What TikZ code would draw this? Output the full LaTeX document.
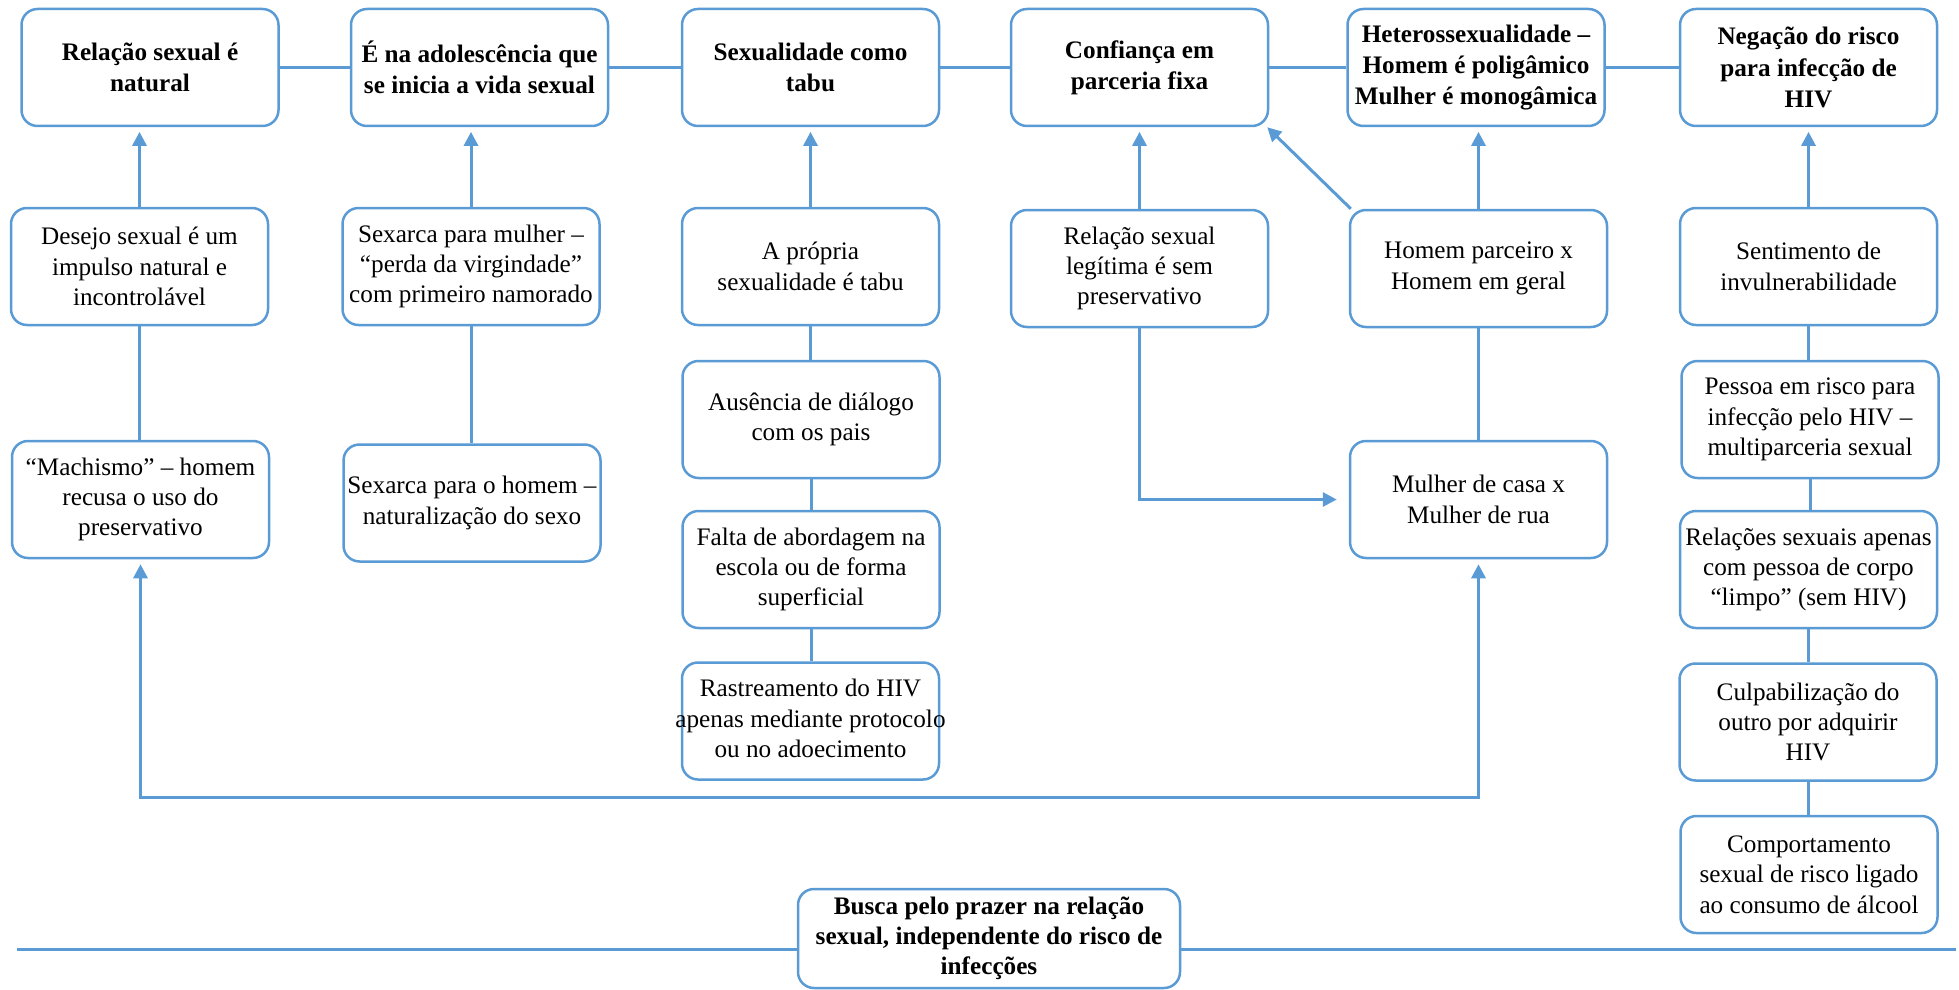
\documentclass[tikz,border=0pt]{standalone}
\usepackage{fontspec}
\setmainfont{Liberation Serif}
\usetikzlibrary{arrows.meta}
\definecolor{lineblue}{RGB}{91,155,213}
\begin{document}
\begin{tikzpicture}[x=0.5pt,y=-0.5pt,
  box/.style={draw=lineblue, line width=1.25pt, rounded corners=8pt, fill=white,
    align=center, inner sep=0pt, minimum width=128.5pt, minimum height=58.5pt,
    font=\fontsize{12.6}{15.2}\selectfont},
  head/.style={box, font=\fontsize{12.6}{15.6}\selectfont\bfseries},
  conn/.style={draw=lineblue, line width=1.5pt},
  arr/.style={conn, -{Triangle[length=7pt,width=7pt]}, shorten >=2.3pt},
  dblarr/.style={conn, {Triangle[length=7pt,width=7pt]}-{Triangle[length=7pt,width=7pt]},
    shorten >=2.5pt, shorten <=2.5pt},
]
\useasboundingbox (0,0) rectangle (1959,990);

% bottom base line behind the central box
\coordinate (baseL) at (17,949);
\coordinate (baseR) at (1956,949);
\coordinate (loopy) at (0,797);

% top row: main themes
\node[head] (b1) at (150,67.5)    {Relação sexual é\\natural};
\node[head] (b2) at (479.5,67.5)  {É na adolescência que\\se inicia a vida sexual};
\node[head] (b3) at (810.5,67.5)  {Sexualidade como\\tabu};
\node[head] (b4) at (1139.5,67.5) {Confiança em\\parceria fixa};
\node[head] (b5) at (1476,67.5)   {Heterossexualidade –\\Homem é poligâmico\\Mulher é monogâmica};
\node[head] (b6) at (1808.5,67.5) {Negação do risco\\para infecção de\\HIV};

% second row
\node[box] (desejo)  at (139.5,266.5)  {Desejo sexual é um\\impulso natural e\\incontrolável};
\node[box] (sexm)    at (471,266.5)    {Sexarca para mulher –\\“perda da virgindade”\\com primeiro namorado};
\node[box] (propria) at (810.5,266.5)  {A própria\\sexualidade é tabu};
\node[box] (legit)   at (1139.5,268.5) {Relação sexual\\legítima é sem\\preservativo};
\node[box] (homemp)  at (1478.5,268.5) {Homem parceiro x\\Homem em geral};
\node[box] (sentim)  at (1808.5,266.5) {Sentimento de\\invulnerabilidade};

% third row
\node[box] (machismo) at (140.5,499.5) {“Machismo” – homem\\recusa o uso do\\preservativo};
\node[box] (sexh)     at (472,503)     {Sexarca para o homem –\\naturalização do sexo};
\node[box] (ausencia) at (811,419.5)   {Ausência de diálogo\\com os pais};
\node[box] (mulher)   at (1478.5,499.5){Mulher de casa x\\Mulher de rua};
\node[box] (pessoa)   at (1810,419.5)  {Pessoa em risco para\\infecção pelo HIV –\\multiparceria sexual};

% lower rows
\node[box] (falta)    at (811,569.5)   {Falta de abordagem na\\escola ou de forma\\superficial};
\node[box] (relacoes) at (1808.5,569.5){Relações sexuais apenas\\com pessoa de corpo\\“limpo” (sem HIV)};
\node[box] (rastr) at (810.5,721)
  {\makebox[120pt]{\begin{tabular}{@{}c@{}}Rastreamento do HIV\\apenas mediante protocolo\\ou no adoecimento\end{tabular}}};
\node[box] (culp)     at (1808,722)    {Culpabilização do\\outro por adquirir\\HIV};
\node[box] (comport)  at (1809,874.5)  {Comportamento\\sexual de risco ligado\\ao consumo de álcool};

% central box on the base line
\node[head, minimum width=191pt, minimum height=49.5pt] (busca) at (989,938.5)
  {\raisebox{-3.5pt}{\begin{tabular}{@{}c@{}}Busca pelo prazer na relação\\[-0.6pt]sexual, independente do risco de\\[-0.6pt]infecções\end{tabular}}};

% base line
\draw[conn] (baseL) -- (busca.west |- baseL);
\draw[conn] (busca.east |- baseR) -- (baseR);

% links between the main themes
\draw[conn] (b1) -- (b2);
\draw[conn] (b2) -- (b3);
\draw[conn] (b3) -- (b4);
\draw[conn] (b4) -- (b5);
\draw[conn] (b5) -- (b6);

% column 1
\draw[arr]  (desejo.north) -- (desejo.north |- b1.south);
\draw[conn] (desejo.south) -- (desejo.south |- machismo.north);
\draw[dblarr] (machismo.south) -- (machismo.south |- loopy) -- (mulher.south |- loopy) -- (mulher.south);

% column 2
\draw[arr]  (sexm.north) -- (sexm.north |- b2.south);
\draw[conn] (sexm.south) -- (sexm.south |- sexh.north);

% column 3
\draw[arr]  (propria.north) -- (propria.north |- b3.south);
\draw[conn] (propria.south) -- (propria.south |- ausencia.north);
\draw[conn] (ausencia.south) -- (ausencia.south |- falta.north);
\draw[conn] (falta.south) -- (falta.south |- rastr.north);

% column 4
\draw[arr]  (legit.north) -- (legit.north |- b4.south);
\draw[arr, shorten >=6pt] (legit.south) |- (mulher.west);

% column 5
\draw[arr]  (homemp.north) -- (homemp.north |- b5.south);
\draw[arr, shorten >=0pt] ([shift={(2,0)}]homemp.north west) -- ([shift={(-2,0)}]b4.south east);
\draw[conn] (homemp.south) -- (homemp.south |- mulher.north);

% column 6
\draw[arr]  (sentim.north) -- (sentim.north |- b6.south);
\draw[conn] (sentim.south) -- (sentim.south |- pessoa.north);
\draw[conn] (pessoa.south) -- (pessoa.south |- relacoes.north);
\draw[conn] (relacoes.south) -- (relacoes.south |- culp.north);
\draw[conn] (culp.south) -- (culp.south |- comport.north);
\end{tikzpicture}
\end{document}
